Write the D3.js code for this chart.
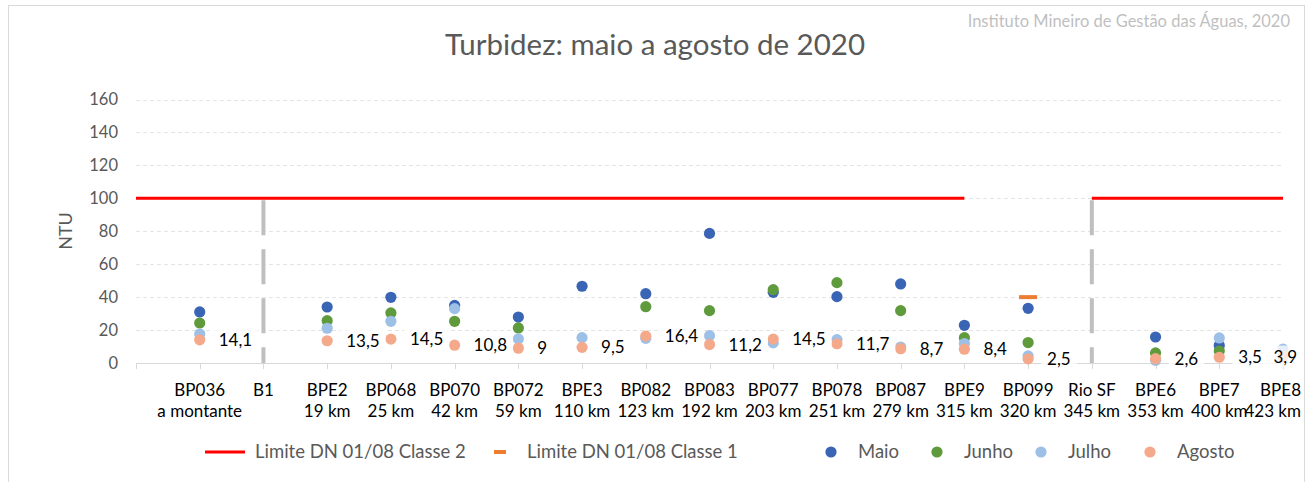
<!DOCTYPE html>
<html>
<head>
<meta charset="utf-8">
<script src="https://cdn.jsdelivr.net/npm/d3@7"></script>
<style>
  html, body { margin: 0; padding: 0; background: #fff; }
  svg { display: block; font-family: Lato, "Open Sans", sans-serif; }
</style>
</head>
<body>
<svg id="chart" width="1309" height="482"></svg>
<script>
// ---------- data ----------
// slot 0 is the empty start of the category axis
const stations = ["", "BP036", "B1", "BPE2", "BP068", "BP070", "BP072", "BPE3", "BP082", "BP083", "BP077", "BP078", "BP087", "BPE9", "BP099", "Rio SF", "BPE6", "BPE7", "BPE8"];
const distances = ["", "a montante", "", "19 km", "25 km", "42 km", "59 km", "110 km", "123 km", "192 km", "203 km", "251 km", "279 km", "315 km", "320 km", "345 km", "353 km", "400 km", "423 km"];
const maio   = [null, 31.0, null, 34.0, 39.9, 35.0, 27.9, 46.6, 42.1, 78.7, 42.9, 40.3, 48.0, 22.9, 33.2, null, 15.8, 10.7, null];
const junho  = [null, 24.3, null, 25.7, 30.4, 25.3, 21.3, null, 34.2, 31.8, 44.5, 48.8, 31.8, 15.4, 12.4, null, 6.1, 7.3, null];
const julho  = [null, 17.6, null, 21.1, 25.3, 33.0, 14.6, 15.4, 15.0, 16.6, 12.2, 14.2, 9.7, 11.8, 4.3, null, 1.6, 15.2, 8.5];
const agosto = [null, 14.1, null, 13.5, 14.5, 10.8, 9.0, 9.5, 16.4, 11.2, 14.5, 11.7, 8.7, 8.4, 2.5, null, 2.6, 3.5, 3.9];
const limiteClasse2 = [100, 100, 100, 100, 100, 100, 100, 100, 100, 100, 100, 100, 100, 100, null, 100, 100, 100, 100];
const limiteClasse1 = [null, null, null, null, null, null, null, null, null, null, null, null, null, null, 40, null, null, null, null];
const separators = ["B1", "Rio SF"];
const yTicks = [0, 20, 40, 60, 80, 100, 120, 140, 160];
const seriesNames = ["Maio", "Junho", "Julho", "Agosto"];
const seriesColors = ["#3a64b4", "#5f9b3c", "#9dc0e6", "#f4a98b"];
const title = "Turbidez: maio a agosto de 2020";
const credit = "Instituto Mineiro de Gestão das Águas, 2020";

// ---------- layout ----------
const svg = d3.select("#chart");
const x = d3.scaleLinear().domain([0, stations.length - 1]).range([136, 1283]);
const y = d3.scaleLinear().domain([0, 160]).range([363, 99.5]);
const grey = "#595959";
const rightLimit = 1301;

// chart border
svg.append("rect").attr("x", 8.5).attr("y", 5.5).attr("width", 1296).attr("height", 500)
  .attr("fill", "none").attr("stroke", "#d9d9d9").attr("stroke-width", 1);

// credit + title
svg.append("text").attr("x", 1290).attr("y", 27).attr("text-anchor", "end")
  .attr("font-size", 16.5).attr("fill", "#bfbfbf").text(credit);
svg.append("text").attr("x", 655).attr("y", 55).attr("text-anchor", "middle")
  .attr("font-size", 29.5).attr("fill", grey).text(title);

// gridlines
svg.append("g").selectAll("line").data(yTicks.filter(d => d > 0)).join("line")
  .attr("x1", x.range()[0]).attr("x2", x.range()[1])
  .attr("y1", d => Math.round(y(d)) + 0.5).attr("y2", d => Math.round(y(d)) + 0.5)
  .attr("stroke", "#e4e4e4").attr("stroke-dasharray", "4,3");

// y axis labels
svg.append("g").selectAll("text").data(yTicks).join("text")
  .attr("x", 118).attr("y", d => y(d)).attr("dy", "0.35em")
  .attr("text-anchor", "end").attr("font-size", 16.5).attr("fill", grey).text(d => d);
svg.append("text").attr("transform", "translate(66,231) rotate(-90)")
  .attr("text-anchor", "middle").attr("dy", "0.35em")
  .attr("font-size", 18).attr("fill", grey).text("NTU");

// x axis line + ticks
const idx = d3.range(stations.length);
svg.append("line").attr("x1", x(0)).attr("x2", x(stations.length - 1))
  .attr("y1", y(0) + 0.5).attr("y2", y(0) + 0.5).attr("stroke", "#d9d9d9");
svg.append("g").selectAll("line").data(idx).join("line")
  .attr("x1", d => Math.round(x(d)) + 0.5).attr("x2", d => Math.round(x(d)) + 0.5)
  .attr("y1", y(0)).attr("y2", y(0) + 6).attr("stroke", "#d9d9d9");

// category labels (kept inside the chart border, like the original)
const cat = svg.append("g").attr("font-size", 17).attr("fill", "#000");
function placeLabels(cls, labels, yPos) {
  cat.selectAll("text." + cls).data(idx.filter(i => labels[i])).join("text").attr("class", cls)
    .attr("y", yPos).attr("text-anchor", "start").text(i => labels[i])
    .each(function (i) {
      const w = this.getComputedTextLength();
      let left = x(i) - w / 2;
      if (left + w > rightLimit) left = rightLimit - w;
      d3.select(this).attr("x", left);
    });
}
placeLabels("s", stations, 396);
placeLabels("d", distances, 417);

// separators
svg.append("g").selectAll("line").data(separators.map(s => stations.indexOf(s))).join("line")
  .attr("x1", i => x(i)).attr("x2", i => x(i)).attr("y1", y(100) + 2).attr("y2", y(0))
  .attr("stroke", "#bfbfbf").attr("stroke-width", 4).attr("stroke-dasharray", "35,14");

// limite classe 2 line
const line = d3.line().defined(d => d.v != null).x(d => x(d.i)).y(d => y(d.v));
svg.append("path").datum(limiteClasse2.map((v, i) => ({ i, v })))
  .attr("d", line).attr("fill", "none").attr("stroke", "#ff0000").attr("stroke-width", 3);

// limite classe 1 markers
svg.append("g").selectAll("rect").data(idx.filter(i => limiteClasse1[i] != null)).join("rect")
  .attr("x", i => x(i) - 9).attr("y", i => y(limiteClasse1[i]) - 2)
  .attr("width", 18).attr("height", 4).attr("fill", "#ed7d31");

// points
const series = [maio, junho, julho, agosto];
series.forEach((vals, s) => {
  svg.append("g").selectAll("circle").data(idx.filter(i => vals[i] != null)).join("circle")
    .attr("cx", i => x(i)).attr("cy", i => y(vals[i])).attr("r", 5.6)
    .attr("fill", seriesColors[s]);
});

// data labels for agosto
const lbl = svg.append("g");
idx.filter(i => agosto[i] != null).forEach(i => {
  const txt = String(agosto[i]).replace(".", ",");
  const g = lbl.append("g");
  const t = g.append("text").attr("font-size", 17).attr("fill", "#000")
    .attr("y", y(agosto[i])).attr("dy", "0.35em").text(txt);
  const w = t.node().getComputedTextLength();
  let tx = x(i) + 19;
  if (tx + w > rightLimit) tx = rightLimit - w - 4;
  t.attr("x", tx);
  g.insert("rect", "text").attr("x", tx - 6).attr("y", y(agosto[i]) - 11)
    .attr("width", w + 12).attr("height", 22).attr("fill", "#fff").attr("fill-opacity", 0.75);
});

// legend
const leg = svg.append("g").attr("font-size", 18.5).attr("fill", grey);
const ly = 452;
leg.append("line").attr("x1", 205).attr("x2", 245).attr("y1", ly).attr("y2", ly)
  .attr("stroke", "#ff0000").attr("stroke-width", 3);
leg.append("text").attr("x", 255).attr("y", ly).attr("dy", "0.35em").text("Limite DN 01/08 Classe 2");
leg.append("rect").attr("x", 494).attr("y", ly - 2).attr("width", 12).attr("height", 4).attr("fill", "#ed7d31");
leg.append("text").attr("x", 527).attr("y", ly).attr("dy", "0.35em").text("Limite DN 01/08 Classe 1");
const legX = [831, 937, 1041, 1150];
seriesNames.forEach((n, s) => {
  leg.append("circle").attr("cx", legX[s]).attr("cy", ly).attr("r", 5.6).attr("fill", seriesColors[s]);
  leg.append("text").attr("x", legX[s] + 27).attr("y", ly).attr("dy", "0.35em").text(n);
});
</script>
</body>
</html>
